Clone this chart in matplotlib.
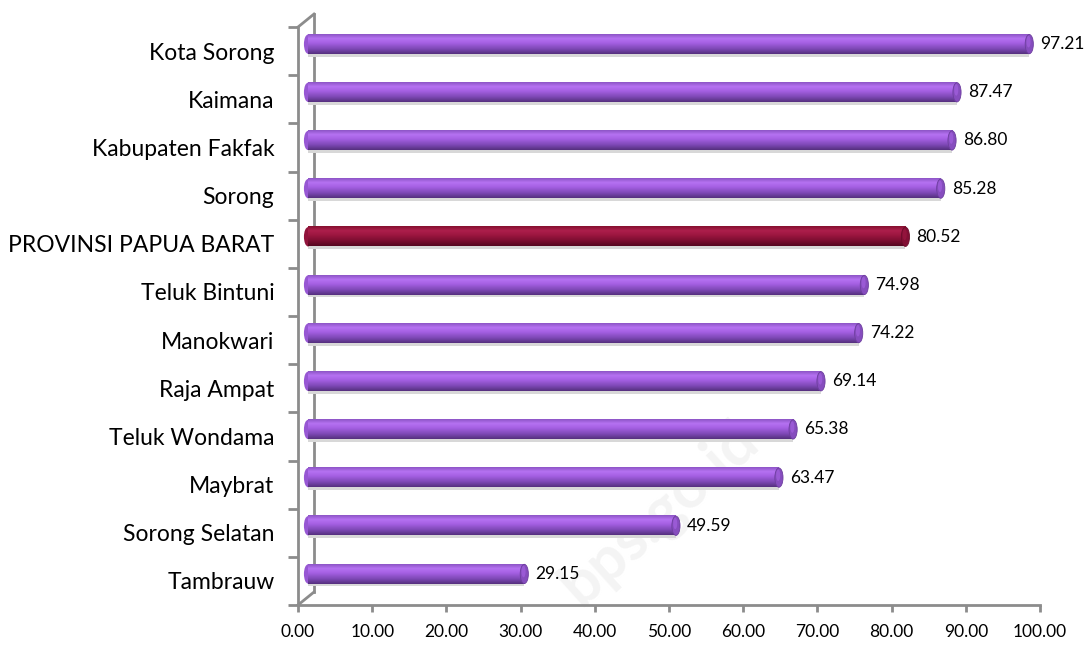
import numpy as np
import matplotlib
matplotlib.use("Agg")
import matplotlib.pyplot as plt
from matplotlib.patches import Ellipse, Rectangle
from matplotlib.colors import LinearSegmentedColormap
import matplotlib.transforms as mtransforms

categories = ["Tambrauw", "Sorong Selatan", "Maybrat", "Teluk Wondama", "Raja Ampat",
              "Manokwari", "Teluk Bintuni", "PROVINSI PAPUA BARAT", "Sorong",
              "Kabupaten Fakfak", "Kaimana", "Kota Sorong"]
values = [29.15, 49.59, 63.47, 65.38, 69.14, 74.22, 74.98, 80.52, 85.28, 86.80, 87.47, 97.21]
highlight = "PROVINSI PAPUA BARAT"
x_ticks = [0, 10, 20, 30, 40, 50, 60, 70, 80, 90, 100]

plt.rcParams['font.family'] = ['Lato', 'DejaVu Sans']

fig = plt.figure(figsize=(10.9, 6.5), dpi=100)
ax = fig.add_axes([0.2734, 0.0692, 0.6807, 0.8892])
ax.set_xlim(0, 100)
ax.set_ylim(-0.5, len(categories) - 0.5)

gray = "#8c8c8c"
bar_tr = mtransforms.offset_copy(ax.transData, fig=fig, x=10, y=7, units='dots')
wall_tr = mtransforms.offset_copy(ax.transAxes, fig=fig, x=16, y=13, units='dots')

purple_cmap = LinearSegmentedColormap.from_list(
    "p", [(0, "#55307e"), (0.25, "#7d48b4"), (0.55, "#a45fe2"), (0.78, "#b672f2"), (1.0, "#8d55c6")])
red_cmap = LinearSegmentedColormap.from_list(
    "r", [(0, "#560720"), (0.25, "#7a0d30"), (0.55, "#9c1640"), (0.78, "#ad1f4c"), (1.0, "#85102f")])

# watermark (behind everything)
ax.text(0.605, 0.21, "bps.go.id", transform=fig.transFigure, fontsize=44, fontweight="bold",
        color="#f4f4f4", rotation=42, ha="center", va="center", zorder=0.5, clip_on=False)

h = 0.40
cap_w = 1.1
grad = np.linspace(0, 1, 64).reshape(-1, 1)
for i, (cat, v) in enumerate(zip(categories, values)):
    cmap = red_cmap if cat == highlight else purple_cmap
    sh = Rectangle((0, i - h / 2 - 0.06), v, 0.08, transform=bar_tr,
                   facecolor="#d8d8d8", edgecolor="none", zorder=2)
    ax.add_patch(sh)
    ax.add_patch(Ellipse((0, i), cap_w, h, transform=bar_tr,
                         facecolor=cmap(0.45), edgecolor="none", zorder=3))
    ax.imshow(grad, extent=(0, v, i - h / 2, i + h / 2), origin="lower",
              aspect="auto", cmap=cmap, interpolation="bilinear", zorder=4,
              transform=bar_tr)
    ax.add_patch(Ellipse((v, i), cap_w, h, transform=bar_tr,
                         facecolor=cmap(0.32), edgecolor=cmap(0.15), lw=0.6, zorder=5))
    ax.add_patch(Ellipse((v - 0.1, i + 0.05), cap_w * 0.5, h * 0.6, transform=bar_tr,
                         facecolor=cmap(0.6), edgecolor="none", alpha=0.6, zorder=6))
    ax.text(v + 1.5, i, f"{v:.2f}", transform=bar_tr, va="center", ha="left",
            fontsize=12.5, color="black", zorder=7)

ax.set_xlim(0, 100)
ax.set_ylim(-0.5, len(categories) - 0.5)

# back wall lines
ax.plot([0, 0], [0, 1], transform=wall_tr, color=gray, lw=2, clip_on=False, zorder=1)
fig_inv = fig.transFigure.inverted()
for yy in (0, 1):
    a = fig_inv.transform(ax.transAxes.transform((0, yy)))
    b = fig_inv.transform(wall_tr.transform((0, yy)))
    fig.add_artist(plt.Line2D([a[0], b[0]], [a[1], b[1]], color=gray, lw=2, zorder=1))

for s in ("top", "right"):
    ax.spines[s].set_visible(False)
for s in ("left", "bottom"):
    ax.spines[s].set_color(gray)
    ax.spines[s].set_linewidth(2)

ax.set_xticks(x_ticks)
ax.set_xticklabels([f"{t:.2f}" for t in x_ticks], fontsize=12.5)
ax.tick_params(axis="x", direction="out", length=5, width=2, color=gray, pad=9)

ax.set_yticks(range(len(categories)))
ax.set_yticklabels(categories, fontsize=16.5)
ax.tick_params(axis="y", which="major", length=0, pad=17)
ax.set_yticks(np.arange(-0.5, len(categories), 1), minor=True)
ax.tick_params(axis="y", which="minor", direction="out", length=7, width=2, color=gray)

fig.savefig("out.png", dpi=100, facecolor="white")
